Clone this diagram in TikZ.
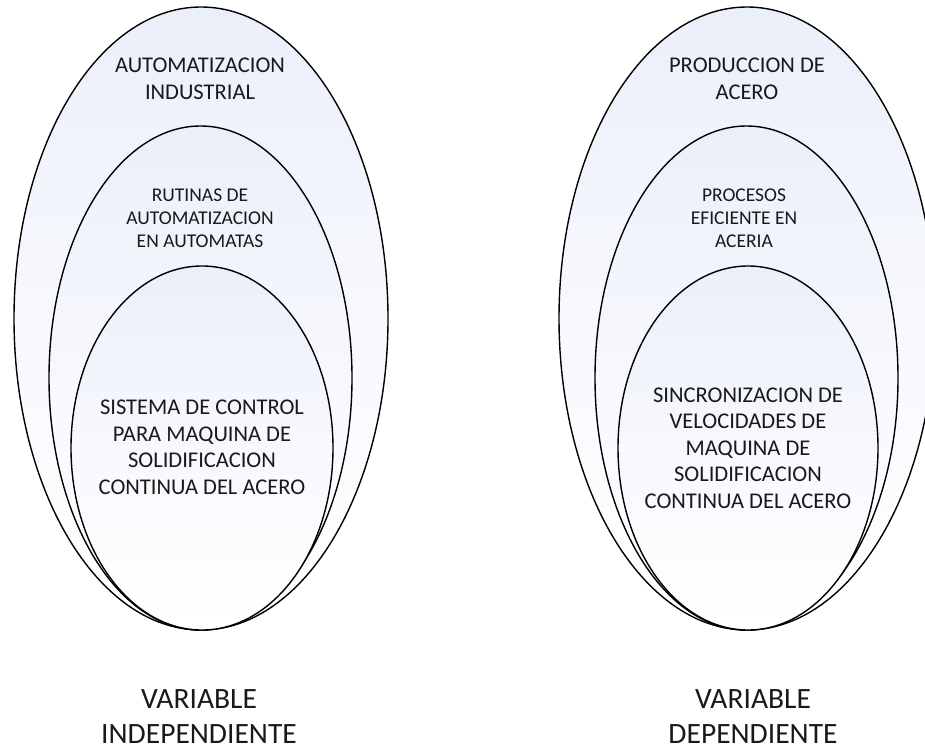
\documentclass[tikz,border=0pt]{standalone}
\usepackage{fontspec}
\setmainfont{Carlito}
\usetikzlibrary{shapes.geometric}
\definecolor{shadetop}{RGB}{235,239,250}
\tikzset{
  ring/.style={ellipse, draw=black, line width=1.4pt, inner sep=0pt,
    top color=shadetop, bottom color=white, middle color=shadetop!40!white},
  bigtxt/.style={align=center, inner sep=0pt, font=\fontsize{22.5}{27}\selectfont, text=black!90},
  midtxt/.style={align=center, inner sep=0pt, font=\fontsize{19.5}{23}\selectfont, text=black!90},
  intxt/.style={align=center, inner sep=0pt, font=\fontsize{22.5}{26.5}\selectfont, text=black!90},
  vartxt/.style={align=center, inner sep=0pt, font=\fontsize{29.5}{35}\selectfont, text=black!90},
}
\begin{document}
\begin{tikzpicture}[x=1pt,y=-1pt]
\useasboundingbox (0,0) rectangle (925,751);
% left group
\node[ring, minimum width=374pt, minimum height=623pt] (lo) at (201,318.5) {};
\node[ring, minimum width=303pt, minimum height=504pt] (lm) at (200.5,378) {};
\node[ring, minimum width=262pt, minimum height=364pt] (li) at (202,448) {};
\node[bigtxt] (lot) at (200,78.5) {AUTOMATIZACION\\INDUSTRIAL};
\node[midtxt] (lmt) at (200,218) {RUTINAS DE\\AUTOMATIZACION\\EN AUTOMATAS};
\node[intxt] (lit) at (202,447.5) {SISTEMA DE CONTROL\\PARA MAQUINA DE\\SOLIDIFICACION\\CONTINUA DEL ACERO};
\node[vartxt] (lvar) at (199,717) {VARIABLE\\INDEPENDIENTE};
% right group
\node[ring, minimum width=376pt, minimum height=623pt] (ro) at (747,318.5) {};
\node[ring, minimum width=303pt, minimum height=504pt] (rm) at (746.5,378) {};
\node[ring, minimum width=260pt, minimum height=364pt] (ri) at (748,448) {};
\node[bigtxt] (rot) at (747,78.5) {PRODUCCION DE\\ACERO};
\node[midtxt] (rmt) at (744,218) {PROCESOS\\EFICIENTE EN\\ACERIA};
\node[intxt] (rit) at (748,448) {SINCRONIZACION DE\\VELOCIDADES DE\\MAQUINA DE\\SOLIDIFICACION\\CONTINUA DEL ACERO};
\node[vartxt] (rvar) at (753,717) {VARIABLE\\DEPENDIENTE};
\end{tikzpicture}
\end{document}
